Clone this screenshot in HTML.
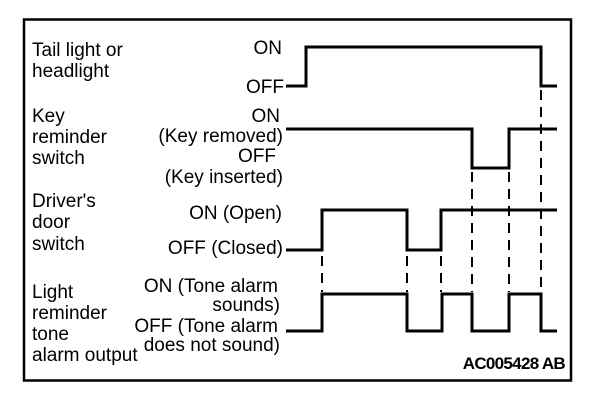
<!DOCTYPE html>
<html><head><meta charset="utf-8"><style>
html,body{margin:0;padding:0;background:#fff;}
svg{display:block;}
text{font-family:"Liberation Sans",Arial,sans-serif;font-size:19px;fill:#000;}
</style></head><body>
<svg width="608" height="404" viewBox="0 0 608 404" xmlns="http://www.w3.org/2000/svg">
<rect x="24" y="19.5" width="547" height="361" fill="none" stroke="#000" stroke-width="2.5"/>
<g>
<text x="32" y="56">Tail light or</text>
<text x="32" y="77">headlight</text>
<text x="32" y="122">Key</text>
<text x="32" y="143">reminder</text>
<text x="32" y="164">switch</text>
<text x="32" y="207">Driver's</text>
<text x="32" y="228">door</text>
<text x="32" y="250">switch</text>
<text x="32" y="298">Light</text>
<text x="32" y="319">reminder</text>
<text x="32" y="340">tone</text>
<text x="32" y="361">alarm output</text>
</g>
<g text-anchor="end">
<text x="282" y="54">ON</text>
<text x="284" y="93">OFF</text>
<text x="280" y="122">ON</text>
<text x="283" y="142">(Key removed)</text>
<text x="276" y="162">OFF</text>
<text x="283" y="183">(Key inserted)</text>
<text x="282" y="219">ON (Open)</text>
<text x="283" y="254">OFF (Closed)</text>
<text x="278" y="292">ON (Tone alarm</text>
<text x="280" y="311">sounds)</text>
<text x="278" y="332">OFF (Tone alarm</text>
<text x="280" y="351">does not sound)</text>
<text x="565" y="369" style="font-weight:bold;font-size:17px;letter-spacing:-0.7px">AC005428 AB</text>
</g>
<g fill="none" stroke="#000" stroke-width="3" stroke-linejoin="miter">
<polyline points="286,86 306,86 306,47 541,47 541,86 557,86"/>
<polyline points="286,129 472,129 472,168 509,168 509,129 557,129"/>
<polyline points="286,250 322,250 322,210 407,210 407,250 441,250 441,210 557,210"/>
<polyline points="286,331 322,331 322,294 407,294 407,331 442,331 442,294 472,294 472,331 509,331 509,294 541,294 541,331 557,331"/>
</g>
<g stroke="#000" stroke-width="2" stroke-dasharray="10,7">
<line x1="541" y1="90" x2="541" y2="292"/>
<line x1="472" y1="172" x2="472" y2="292"/>
<line x1="509" y1="172" x2="509" y2="292"/>
<line x1="322" y1="256" x2="322" y2="292"/>
<line x1="407" y1="256" x2="407" y2="292"/>
<line x1="441" y1="256" x2="441" y2="292"/>
</g>
</svg>
</body></html>
